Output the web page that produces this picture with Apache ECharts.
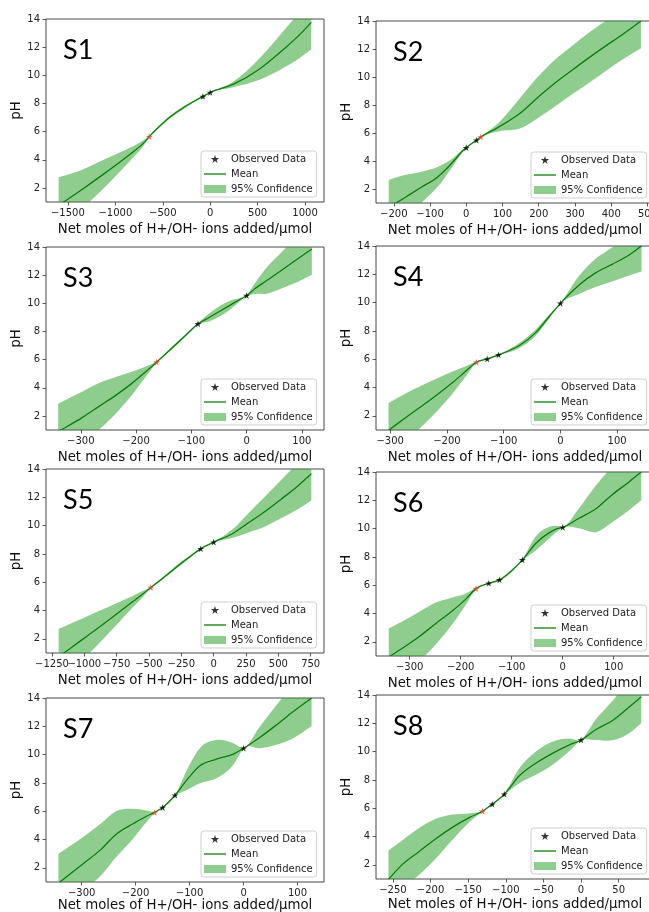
<!DOCTYPE html>
<html>
<head>
<meta charset="utf-8">
<script src="https://cdn.jsdelivr.net/npm/echarts@6.0.0/dist/echarts.min.js"></script>
<style>
  html, body { margin: 0; padding: 0; background: #ffffff; }
  #chart { width: 649px; height: 912px; }
</style>
</head>
<body>
<div id="chart"></div>
<script>
// Titration curves: GP mean, 95% band and observed pH readings for eight samples.

const panelNames = ['S1', 'S2', 'S3', 'S4', 'S5', 'S6', 'S7', 'S8'];
const xAxisTitle = 'Net moles of H+/OH- ions added/μmol';
const yAxisTitle = 'pH';
const legendNames = ['Observed Data', 'Mean', '95% Confidence'];
const pHTicks = [2, 4, 6, 8, 10, 12, 14];

// S1
const s1X     = [-1598, -1332, -1157, -983, -808, -703, -643, -580, -458, -283, -178, -77, 0, 241, 521, 766, 941, 1066];
const s1Mean  = [0.76, 1.98, 2.82, 3.68, 4.58, 5.18, 5.64, 6.08, 6.85, 7.70, 8.12, 8.50, 8.78, 9.35, 10.45, 11.80, 12.87, 13.76];
const s1Upper = [2.75, 3.35, 3.90, 4.42, 4.98, 5.38, 5.68, 6.13, 6.94, 7.80, 8.18, 8.52, 8.80, 9.55, 11.22, 13.10, 14.52, 15.67];
const s1Lower = [-1.20, 0.62, 1.74, 2.94, 4.18, 4.98, 5.60, 6.03, 6.76, 7.60, 8.06, 8.48, 8.76, 9.15, 9.68, 10.50, 11.22, 11.85];
const s1Obs   = [[-77, 8.50], [0, 8.78]];
const s1First = [-643, 5.64];
const s1Ticks = [-1500, -1000, -500, 0, 500, 1000];

// S2
const s2X     = [-214, -170, -124, -78, -32, -14, 0, 28, 40, 88, 152, 198, 244, 290, 336, 382, 429, 482];
const s2Mean  = [0.67, 1.38, 2.12, 2.88, 4.07, 4.62, 4.95, 5.48, 5.71, 6.40, 7.48, 8.55, 9.55, 10.45, 11.33, 12.17, 13.00, 14.00];
const s2Upper = [2.65, 3.00, 3.24, 3.59, 4.31, 4.74, 4.98, 5.51, 5.74, 6.70, 8.61, 10.03, 11.22, 12.17, 13.12, 13.96, 14.79, 15.95];
const s2Lower = [-1.31, -0.24, 1.00, 2.17, 3.83, 4.50, 4.92, 5.45, 5.68, 6.10, 6.35, 7.07, 7.88, 8.73, 9.54, 10.38, 11.21, 12.05];
const s2Obs   = [[0, 4.95], [28, 5.48]];
const s2First = [40, 5.71];
const s2Ticks = [-200, -100, 0, 100, 200, 300, 400, 500];

// S3
const s3X     = [-341, -297, -267, -237, -207, -182, -163, -134, -110, -88, -68, -47, -23, 0, 16, 34, 64, 94, 118];
const s3Mean  = [0.88, 1.90, 2.68, 3.46, 4.33, 5.16, 5.82, 6.86, 7.74, 8.54, 8.99, 9.47, 10.03, 10.55, 11.07, 11.55, 12.37, 13.20, 13.86];
const s3Upper = [2.87, 3.74, 4.33, 4.76, 5.16, 5.51, 5.86, 6.96, 7.82, 8.57, 9.27, 9.85, 10.28, 10.58, 11.47, 12.43, 13.67, 14.85, 15.70];
const s3Lower = [-1.11, 0.06, 1.03, 2.16, 3.50, 4.81, 5.78, 6.76, 7.66, 8.51, 8.71, 9.09, 9.78, 10.52, 10.67, 10.67, 11.07, 11.55, 12.02];
const s3Obs   = [[-88, 8.54], [0, 10.55]];
const s3First = [-163, 5.82];
const s3Ticks = [-300, -200, -100, 0, 100];

// S4
const s4X     = [-303, -278, -248, -219, -190, -166, -148, -129, -109, -73, -43, -20, 0, 33, 62, 91, 121, 143];
const s4Mean  = [0.97, 1.72, 2.59, 3.44, 4.35, 5.18, 5.79, 6.02, 6.31, 6.95, 7.90, 9.00, 9.95, 11.25, 12.10, 12.70, 13.36, 14.00];
const s4Upper = [2.90, 3.48, 4.07, 4.62, 5.13, 5.53, 5.83, 6.06, 6.35, 7.13, 8.12, 9.14, 9.98, 11.90, 13.10, 13.90, 14.81, 15.80];
const s4Lower = [-0.96, -0.04, 1.11, 2.26, 3.57, 4.83, 5.75, 5.98, 6.27, 6.77, 7.68, 8.86, 9.92, 10.60, 11.10, 11.50, 11.91, 12.20];
const s4Obs   = [[-129, 6.02], [-109, 6.31], [0, 9.95]];
const s4First = [-148, 5.79];
const s4Ticks = [-300, -200, -100, 0, 100];

// S5
const s5X     = [-1198, -1011, -883, -755, -627, -550, -486, -430, -371, -243, -166, -100, 0, 141, 269, 397, 525, 653, 755];
const s5Mean  = [0.73, 1.98, 2.84, 3.72, 4.62, 5.15, 5.63, 6.02, 6.45, 7.40, 7.93, 8.36, 8.83, 9.41, 10.20, 11.00, 11.89, 12.82, 13.67];
const s5Upper = [2.70, 3.45, 3.98, 4.50, 5.03, 5.38, 5.67, 6.08, 6.53, 7.52, 8.00, 8.38, 8.85, 9.70, 10.88, 12.06, 13.25, 14.47, 15.56];
const s5Lower = [-1.24, 0.51, 1.70, 2.94, 4.21, 4.92, 5.59, 5.96, 6.37, 7.28, 7.86, 8.34, 8.81, 9.12, 9.52, 9.94, 10.53, 11.17, 11.78];
const s5Obs   = [[-100, 8.36], [0, 8.83]];
const s5First = [-486, 5.63];
const s5Ticks = [-1250, -1000, -750, -500, -250, 0, 250, 500, 750];

// S6
const s6X     = [-341, -313, -281, -248, -216, -190, -170, -145, -124, -102, -79, -53, -27, -14, 0, 32, 65, 97, 130, 154];
const s6Mean  = [0.93, 1.58, 2.38, 3.32, 4.20, 5.02, 5.76, 6.14, 6.38, 6.96, 7.79, 8.95, 9.70, 9.95, 10.09, 10.73, 11.40, 12.40, 13.30, 14.00];
const s6Upper = [2.95, 3.48, 4.13, 4.79, 5.14, 5.42, 5.80, 6.18, 6.42, 7.04, 7.83, 9.45, 10.12, 10.20, 10.12, 11.44, 13.05, 14.35, 15.30, 16.00];
const s6Lower = [-1.09, -0.32, 0.63, 1.85, 3.26, 4.62, 5.72, 6.10, 6.34, 6.88, 7.75, 8.45, 9.28, 9.70, 10.06, 10.02, 9.75, 10.45, 11.30, 12.00];
const s6Obs   = [[-145, 6.14], [-124, 6.38], [-79, 7.79], [0, 10.09]];
const s6First = [-170, 5.76];
const s6Ticks = [-300, -200, -100, 0, 100];

// S7
const s7X     = [-343, -296, -265, -235, -204, -179, -165, -150, -127, -105, -81, -50, -19, 0, 30, 61, 92, 126];
const s7Mean  = [0.92, 2.33, 3.27, 4.41, 5.13, 5.66, 5.91, 6.26, 7.13, 8.21, 9.21, 9.68, 10.04, 10.45, 11.21, 12.10, 13.04, 14.00];
const s7Upper = [2.99, 4.21, 5.11, 6.02, 6.17, 6.05, 5.95, 6.30, 7.17, 8.92, 10.45, 11.03, 10.80, 10.48, 11.97, 13.50, 14.92, 15.98];
const s7Lower = [-1.15, 0.45, 1.43, 2.80, 4.09, 5.27, 5.87, 6.22, 7.09, 7.50, 7.97, 8.33, 9.28, 10.42, 10.45, 10.70, 11.16, 12.02];
const s7Obs   = [[-150, 6.26], [-127, 7.13], [0, 10.45]];
const s7First = [-165, 5.91];
const s7Ticks = [-300, -200, -100, 0, 100];

// S8
const s8X     = [-256, -237, -215, -193, -171, -148, -131, -118, -102, -82, -60, -38, -16, 0, 19, 42, 64, 80];
const s8Mean  = [0.97, 2.05, 2.95, 3.85, 4.65, 5.35, 5.79, 6.28, 6.99, 8.29, 9.18, 9.88, 10.46, 10.82, 11.53, 12.20, 13.15, 13.88];
const s8Upper = [3.01, 3.76, 4.60, 5.25, 5.55, 5.65, 5.83, 6.32, 7.03, 8.82, 10.00, 10.70, 10.92, 10.85, 12.24, 13.60, 15.00, 15.76];
const s8Lower = [-1.07, 0.34, 1.30, 2.45, 3.75, 5.05, 5.75, 6.24, 6.95, 7.76, 8.36, 9.06, 10.00, 10.79, 10.82, 10.80, 11.30, 12.00];
const s8Obs   = [[-118, 6.28], [-102, 6.99], [0, 10.82]];
const s8First = [-131, 5.79];
const s8Ticks = [-250, -200, -150, -100, -50, 0, 50];

const panels = [
  { x: s1X, mean: s1Mean, upper: s1Upper, lower: s1Lower, obs: s1Obs, first: s1First, ticks: s1Ticks },
  { x: s2X, mean: s2Mean, upper: s2Upper, lower: s2Lower, obs: s2Obs, first: s2First, ticks: s2Ticks },
  { x: s3X, mean: s3Mean, upper: s3Upper, lower: s3Lower, obs: s3Obs, first: s3First, ticks: s3Ticks },
  { x: s4X, mean: s4Mean, upper: s4Upper, lower: s4Lower, obs: s4Obs, first: s4First, ticks: s4Ticks },
  { x: s5X, mean: s5Mean, upper: s5Upper, lower: s5Lower, obs: s5Obs, first: s5First, ticks: s5Ticks },
  { x: s6X, mean: s6Mean, upper: s6Upper, lower: s6Lower, obs: s6Obs, first: s6First, ticks: s6Ticks },
  { x: s7X, mean: s7Mean, upper: s7Upper, lower: s7Lower, obs: s7Obs, first: s7First, ticks: s7Ticks },
  { x: s8X, mean: s8Mean, upper: s8Upper, lower: s8Lower, obs: s8Obs, first: s8First, ticks: s8Ticks }
];

// Plot boxes (px), x extents and x-title gap for the 4 x 2 grid of panels.
const PLOT_W = 278;
const layout = [
  { left: 46,  top: 19,  height: 183, xMin: -1731, xMax: 1200, nameGap: 21 },
  { left: 376, top: 21,  height: 182, xMin: -249,  xMax: 518,  nameGap: 21 },
  { left: 46,  top: 247, height: 183, xMin: -363,  xMax: 140,  nameGap: 21 },
  { left: 376, top: 246, height: 184, xMin: -325,  xMax: 165,  nameGap: 21 },
  { left: 46,  top: 469, height: 184, xMin: -1296, xMax: 853,  nameGap: 21 },
  { left: 376, top: 472, height: 184, xMin: -366,  xMax: 179,  nameGap: 21 },
  { left: 46,  top: 698, height: 184, xMin: -366,  xMax: 149,  nameGap: 17 },
  { left: 376, top: 695, height: 184, xMin: -272.5, xMax: 97,  nameGap: 19 }
];

const MEAN_COLOR = '#0a7d0a';
const BAND_COLOR = 'rgba(40,160,40,0.52)';
const FIRST_COLOR = '#e8432d';
const STAR = 'path://M0,-10L2.245,-3.09L9.51,-3.09L3.633,1.18L5.88,8.09L0,3.82L-5.88,8.09L-3.633,1.18L-9.51,-3.09L-2.245,-3.09Z';
const LINE_ICON = 'path://M0,0L24,0L24,1.4L0,1.4Z';
const TEXT_FONT = 'DejaVu Sans';
const TICK_LABEL = { fontFamily: TEXT_FONT, fontSize: 10, color: '#222222' };

const fmtTick = v => (v < 0 ? '\u2212' : '') + Math.abs(v);

// Smooth cubic Hermite path through pixel points (three-point tangents).
function hermiteSegments(pts) {
  const n = pts.length;
  const h = [], d = [], m = [];
  for (let k = 0; k < n - 1; k++) {
    h[k] = pts[k + 1][0] - pts[k][0];
    d[k] = (pts[k + 1][1] - pts[k][1]) / h[k];
  }
  m[0] = d[0];
  m[n - 1] = d[n - 2];
  for (let k = 1; k < n - 1; k++) {
    m[k] = (h[k] * d[k - 1] + h[k - 1] * d[k]) / (h[k - 1] + h[k]);
  }
  let s = '';
  for (let k = 0; k < n - 1; k++) {
    const c = h[k] / 3;
    const [x0, y0] = pts[k];
    const [x1, y1] = pts[k + 1];
    s += ' C' + (x0 + c) + ',' + (y0 + m[k] * c) + ' ' + (x1 - c) + ',' + (y1 - m[k + 1] * c) + ' ' + x1 + ',' + y1;
  }
  return s;
}

const grid = layout.map(b => ({
  left: b.left, top: b.top, width: PLOT_W, height: b.height,
  show: true, borderColor: '#333333', borderWidth: 0.9,
  containLabel: false, outerBoundsMode: 'none'
}));

// Each panel gets two bottom x axes sharing one scale: the first carries the
// ticks, the title and every other label, the second the remaining labels, so
// closely packed tick labels are all kept.
const evenTicks = t => t.filter((_, k) => k % 2 === 0);
const oddTicks = t => t.filter((_, k) => k % 2 === 1);

const xAxis = panels.map((p, i) => ({
  type: 'value', gridIndex: i, position: 'bottom', offset: 0,
  min: layout[i].xMin, max: layout[i].xMax,
  name: xAxisTitle, nameLocation: 'middle', nameGap: layout[i].nameGap,
  nameTextStyle: { fontFamily: TEXT_FONT, fontSize: 13.3, color: '#111111' },
  axisLine: { show: false, onZero: false },
  splitLine: { show: false },
  axisTick: { show: true, length: 3.5, customValues: p.ticks, lineStyle: { color: '#333333', width: 0.8 } },
  axisLabel: Object.assign({
    customValues: evenTicks(p.ticks), formatter: fmtTick, margin: 6,
    hideOverlap: false, showMinLabel: true, showMaxLabel: true
  }, TICK_LABEL)
})).concat(panels.map((p, i) => ({
  type: 'value', gridIndex: i, position: 'bottom', offset: 0,
  min: layout[i].xMin, max: layout[i].xMax,
  axisLine: { show: false, onZero: false },
  splitLine: { show: false },
  axisTick: { show: false },
  axisLabel: Object.assign({
    customValues: oddTicks(p.ticks), formatter: fmtTick, margin: 6,
    hideOverlap: false, showMinLabel: true, showMaxLabel: true
  }, TICK_LABEL)
})));

const yAxis = panels.map((p, i) => ({
  type: 'value', gridIndex: i, min: 1, max: 14,
  name: yAxisTitle, nameLocation: 'middle', nameGap: 16, nameRotate: 90,
  nameTextStyle: { fontFamily: TEXT_FONT, fontSize: 13.3, color: '#111111' },
  axisLine: { show: false, onZero: false },
  splitLine: { show: false },
  axisTick: { show: true, length: 3.5, customValues: pHTicks, lineStyle: { color: '#333333', width: 0.8 } },
  axisLabel: Object.assign({
    customValues: pHTicks, margin: 6, hideOverlap: false, showMinLabel: true, showMaxLabel: true
  }, TICK_LABEL)
}));

const series = [];
panels.forEach((p, i) => {
  const rows = p.x.map((x, k) => [x, p.lower[k], p.mean[k], p.upper[k]]);

  // 95% confidence band: upper edge left to right, lower edge back.
  series.push({
    type: 'custom', name: legendNames[2], xAxisIndex: i, yAxisIndex: i,
    coordinateSystem: 'cartesian2d', clip: true, silent: true, z: 1,
    itemStyle: { color: BAND_COLOR },
    encode: { x: 0, y: [1, 3] },
    data: rows,
    renderItem: (params, api) => {
      if (params.dataIndex !== 0) return null;
      const up = rows.map(r => api.coord([r[0], r[3]]));
      const lo = rows.map(r => api.coord([r[0], r[1]])).reverse();
      const d = 'M' + up[0][0] + ',' + up[0][1] + hermiteSegments(up) +
        ' L' + lo[0][0] + ',' + lo[0][1] + hermiteSegments(lo) + ' Z';
      return { type: 'path', shape: { pathData: d }, style: { fill: BAND_COLOR, stroke: null } };
    }
  });

  // GP mean curve
  series.push({
    type: 'custom', name: legendNames[1], xAxisIndex: i, yAxisIndex: i,
    coordinateSystem: 'cartesian2d', clip: true, silent: true, z: 2,
    itemStyle: { color: MEAN_COLOR },
    encode: { x: 0, y: 2 },
    data: rows,
    renderItem: (params, api) => {
      if (params.dataIndex !== 0) return null;
      const pts = rows.map(r => api.coord([r[0], r[2]]));
      const d = 'M' + pts[0][0] + ',' + pts[0][1] + hermiteSegments(pts);
      return { type: 'path', shape: { pathData: d }, style: { fill: null, stroke: MEAN_COLOR, lineWidth: 1.3 } };
    }
  });

  // observed readings; the first reading of the run is highlighted
  series.push({
    type: 'scatter', name: legendNames[0], xAxisIndex: i, yAxisIndex: i,
    symbol: STAR, symbolSize: 7, symbolKeepAspect: true, silent: true,
    itemStyle: { color: '#000000' }, z: 4,
    data: [{ value: p.first, itemStyle: { color: FIRST_COLOR } }].concat(p.obs.map(d => ({ value: d })))
  });
});

const legend = layout.map(b => ({
  left: b.left + 155, top: b.top + b.height - 51, orient: 'vertical',
  data: [
    { name: legendNames[0], icon: STAR, itemStyle: { color: '#000000' } },
    { name: legendNames[1], icon: LINE_ICON, itemStyle: { color: MEAN_COLOR } },
    { name: legendNames[2], icon: 'rect', itemStyle: { color: BAND_COLOR } }
  ],
  itemWidth: 22, itemHeight: 8, itemGap: 3, padding: [2, 4, 2, 3],
  symbolKeepAspect: true, selectedMode: false,
  backgroundColor: 'rgba(255,255,255,0.85)', borderColor: '#d0d0d0', borderWidth: 1, borderRadius: 3,
  textStyle: { fontFamily: TEXT_FONT, fontSize: 10, color: '#222222', lineHeight: 12 }
}));

const title = layout.map((b, i) => ({
  text: panelNames[i], left: b.left + 17, top: b.top + 18, padding: 0,
  textStyle: { fontFamily: 'Lato', fontSize: 27, fontWeight: 'normal', color: '#000000' }
}));

const chart = echarts.init(document.getElementById('chart'), null, { renderer: 'canvas' });
chart.setOption({
  animation: false,
  backgroundColor: '#ffffff',
  title, legend, grid, xAxis, yAxis, series
});
</script>
</body>
</html>
